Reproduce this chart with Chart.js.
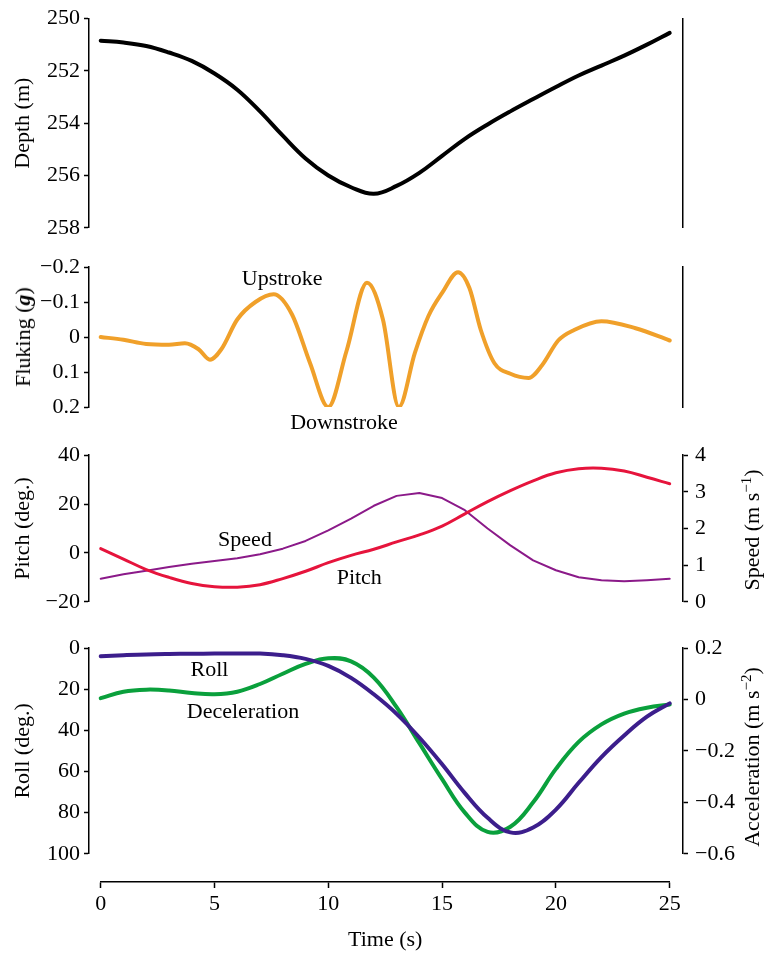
<!DOCTYPE html>
<html>
<head>
<meta charset="utf-8">
<title>Dive kinematics</title>
<script src="https://cdn.jsdelivr.net/npm/chart.js@4.4.1/dist/chart.umd.min.js"></script>
<style>
  body { margin: 0; background: #fff; }
  #wrap { position: relative; width: 764px; height: 953px; overflow: hidden; }
  #wrap canvas { position: absolute; left: 0; }
  .vtitle {
    position: absolute;
    font: 22px "Liberation Serif", "Times New Roman", serif;
    color: #000;
    white-space: nowrap;
    transform: translate(-50%, -50%) rotate(-90deg);
  }
  .vtitle sup { font-size: 15px; line-height: 0; }
</style>
</head>
<body>
<div id="wrap">
  <canvas id="depthChart" width="764" height="245" style="top:0px"></canvas>
  <canvas id="flukeChart" width="764" height="190" style="top:245px"></canvas>
  <canvas id="pitchChart" width="764" height="187" style="top:435px"></canvas>
  <canvas id="rollChart" width="764" height="252" style="top:622px"></canvas>
  <canvas id="timeChart" width="764" height="79" style="top:874px"></canvas>
  <div class="vtitle" style="left:23px; top:337px;">Fluking (<b><i>g</i></b>)</div>
  <div class="vtitle" style="left:752px; top:530px;">Speed (m s<sup>−1</sup>)</div>
  <div class="vtitle" style="left:752px; top:757px;">Acceleration (m s<sup>−2</sup>)</div>
</div>
<script>
// time stamps (s)
const seconds = [0, 1, 2, 3, 4, 5, 6, 7, 8, 9, 10, 11, 12, 13, 14, 15, 16, 17, 18, 19, 20, 21, 22, 23, 24, 25];
const timeTicks = [0, 5, 10, 15, 20, 25];

// depth (m)
const depth = [250.85, 250.92, 251.05, 251.3, 251.62, 252.1, 252.72, 253.55, 254.48, 255.35, 256.0, 256.45, 256.7,
               256.4, 255.9, 255.25, 254.6, 254.05, 253.55, 253.08, 252.62, 252.18, 251.8, 251.42, 251.0, 250.55];
const depthTicks = [250, 252, 254, 256, 258];

// fluking (g), sampled at peaks and troughs
const flukeTime = [0, 1, 2, 3, 3.7, 4.3, 4.8, 5.3, 6.0, 6.8, 7.6, 8.4, 9.2, 10.0, 10.8, 11.7, 12.4, 13.1, 13.8,
                   14.4, 15.0, 15.7, 16.2, 16.7, 17.3, 18.0, 18.8, 19.4, 20.1, 20.8, 22.0, 23.5, 25];
const fluking = [0, 0.008, 0.02, 0.022, 0.018, 0.035, 0.065, 0.035, -0.05, -0.1, -0.122, -0.065, 0.075, 0.2, 0.04,
                 -0.155, -0.05, 0.2, 0.046, -0.06, -0.126, -0.185, -0.14, -0.02, 0.075, 0.105, 0.117, 0.08, 0.01,
                 -0.02, -0.045, -0.025, 0.01];
const flukeTicks = [-0.2, -0.1, 0, 0.1, 0.2];

// pitch (deg.) and speed (m/s)
const pitch = [1.8, -2.5, -6.8, -10, -12.5, -13.8, -14, -13, -10.5, -7.5, -4, -1, 1.5, 4.5, 7.4, 11, 16, 21,
               25.5, 29.5, 32.8, 34.5, 34.7, 33.5, 31, 28.3];
const speed = [0.63, 0.75, 0.85, 0.95, 1.04, 1.11, 1.19, 1.3, 1.45, 1.66, 1.95, 2.27, 2.62, 2.89, 2.97, 2.83,
               2.5, 2.0, 1.54, 1.13, 0.86, 0.67, 0.59, 0.56, 0.59, 0.63];
const pitchTicks = [-20, -10, 0, 10, 20, 30, 40];
const speedTicks = [0, 1, 2, 3, 4];

// roll (deg.) and deceleration (m/s2)
const roll = [4, 3.5, 3.1, 2.9, 2.8, 2.7, 2.7, 2.7, 3.5, 5.3, 8.7, 14.5, 22.5, 32, 43.5, 56.5, 70.5, 82.5, 89.6,
              87.2, 78.5, 65.5, 53, 42.5, 33.4, 26.9];
const accel = [0.005, 0.03, 0.038, 0.035, 0.025, 0.02, 0.03, 0.06, 0.1, 0.138, 0.16, 0.148, 0.085, -0.03, -0.17,
               -0.31, -0.44, -0.515, -0.495, -0.4, -0.27, -0.165, -0.097, -0.055, -0.032, -0.02];
const rollTicks = [0, 20, 40, 60, 80, 100];
const accelTicks = [-0.6, -0.4, -0.2, 0, 0.2];

const SERIF = '"Liberation Serif", "Times New Roman", serif';
Chart.defaults.font.family = SERIF;
Chart.defaults.font.size = 22;
Chart.defaults.color = '#000';

const pts = (xs, ys) => xs.map((x, i) => ({ x: x, y: ys[i] }));
const fmt = v => {
    const r = Math.round(v * 100) / 100;
    return r < 0 ? '\u2212' + Math.abs(r) : String(r);
};
const useTicks = list => scale => { scale.ticks = list.map(v => ({ value: v })); };

// text labels next to the curves, placed in data units
const curveLabels = {
    id: 'curveLabels',
    afterDatasetsDraw(chart, args, opts) {
        const ctx = chart.ctx;
        ctx.save();
        ctx.font = '22px ' + SERIF;
        ctx.fillStyle = '#000';
        ctx.textAlign = 'center';
        ctx.textBaseline = 'middle';
        (opts.items || []).forEach(it => {
            const ys = chart.scales[it.axis || 'y'];
            ctx.fillText(it.text, chart.scales.x.getPixelForValue(it.x), ys.getPixelForValue(it.y));
        });
        ctx.restore();
    }
};

function hiddenX() {
    return { type: 'linear', display: false, min: -0.514, max: 25.584 };
}

function leftAxis(title, ticks, reverse) {
    return {
        position: 'left',
        min: ticks[0], max: ticks[ticks.length - 1], reverse: reverse,
        afterFit: s => { s.width = 89; },
        afterBuildTicks: useTicks(ticks),
        ticks: { padding: 4, callback: fmt },
        grid: { drawOnChartArea: false, tickLength: 5, tickWidth: 1.5, color: '#000' },
        border: { color: '#000', width: 1.5 },
        title: { display: !!title, text: title || '', padding: { top: 10, bottom: 0 } }
    };
}

function rightAxis(ticks, reverse) {
    if (!ticks) {
        return {
            position: 'right', min: 0, max: 1,
            afterFit: s => { s.width = 81; },
            ticks: { display: false },
            grid: { display: false },
            border: { color: '#000', width: 1.5 }
        };
    }
    return {
        position: 'right',
        min: ticks[0], max: ticks[ticks.length - 1], reverse: reverse,
        afterFit: s => { s.width = 81; },
        afterBuildTicks: useTicks(ticks),
        ticks: { padding: 7, callback: fmt },
        grid: { drawOnChartArea: false, tickLength: 5, tickWidth: 1.5, color: '#000' },
        border: { color: '#000', width: 1.5 }
    };
}

// curve: 'monotone', 'smooth' (bezier) or 'straight'
function line(label, data, color, width, axis, curve) {
    return {
        label: label, data: data, yAxisID: axis,
        borderColor: color, borderWidth: width, pointRadius: 0,
        cubicInterpolationMode: curve === 'monotone' ? 'monotone' : 'default',
        tension: curve === 'smooth' ? 0.4 : 0,
        borderCapStyle: 'round', borderJoinStyle: 'round', fill: false
    };
}

function panel(id, pad, datasets, scales, labels) {
    return new Chart(document.getElementById(id), {
        type: 'line',
        data: { datasets: datasets },
        options: {
            responsive: false, animation: false, events: [],
            devicePixelRatio: 1,
            layout: { padding: { top: pad[0], bottom: pad[1], left: 0, right: 0 } },
            scales: scales,
            plugins: { legend: { display: false }, tooltip: { enabled: false }, curveLabels: { items: labels } }
        },
        plugins: [curveLabels]
    });
}

// Depth
panel('depthChart', [18.5, 10.5],
    [line('Depth', pts(seconds, depth), '#000000', 4, 'y', 'smooth')],
    { x: hiddenX(), y: leftAxis('Depth (m)', depthTicks, true), y2: rightAxis(null) },
    []);

// Fluking (title is the HTML overlay, for the bold italic g)
panel('flukeChart', [22, 28],
    [line('Fluking', pts(flukeTime, fluking), '#F0A02A', 4, 'y', 'monotone')],
    { x: hiddenX(), y: leftAxis(null, flukeTicks, true), y2: rightAxis(null) },
    [{ text: 'Upstroke', x: 7.97, y: -0.166 }, { text: 'Downstroke', x: 10.69, y: 0.246 }]);

// Pitch and speed
panel('pitchChart', [16, 13],
    [line('Pitch', pts(seconds, pitch), '#E6143C', 3, 'y', 'smooth'),
     line('Speed', pts(seconds, speed), '#8B1A89', 2, 'y2', 'straight')],
    { x: hiddenX(), y: leftAxis('Pitch (deg.)', pitchTicks, false), y2: rightAxis(speedTicks, false) },
    [{ text: 'Speed', x: 6.34, y: 5.4 }, { text: 'Pitch', x: 11.36, y: -10.5 }]);

// Roll and deceleration
panel('rollChart', [26, 10],
    [line('Roll', pts(seconds, roll), '#3C1E8C', 4, 'y', 'smooth'),
     line('Deceleration', pts(seconds, accel), '#0AA03C', 4, 'y2', 'smooth')],
    { x: hiddenX(), y: leftAxis('Roll (deg.)', rollTicks, true), y2: rightAxis(accelTicks, false) },
    [{ text: 'Roll', x: 4.78, y: 10.6 }, { text: 'Deceleration', x: 6.25, y: 31 }]);

// shared time axis
new Chart(document.getElementById('timeChart'), {
    type: 'line',
    data: { datasets: [] },
    options: {
        responsive: false, animation: false, events: [],
        devicePixelRatio: 1,
        layout: { padding: { top: 0, bottom: 0, left: 100.7, right: 94.3 } },
        scales: {
            x: {
                type: 'linear', position: 'bottom', min: 0, max: 25,
                afterFit: s => { s.height = 71; },
                afterBuildTicks: useTicks(timeTicks),
                ticks: { padding: 3, callback: fmt, maxRotation: 0 },
                grid: { drawOnChartArea: false, tickLength: 6, tickWidth: 1.5, color: '#000' },
                border: { color: '#000', width: 1.5 },
                title: { display: true, text: 'Time (s)', padding: { top: 4, bottom: 0 } }
            },
            y: { display: false, min: 0, max: 1 }
        },
        plugins: { legend: { display: false }, tooltip: { enabled: false } }
    }
});
</script>
</body>
</html>
